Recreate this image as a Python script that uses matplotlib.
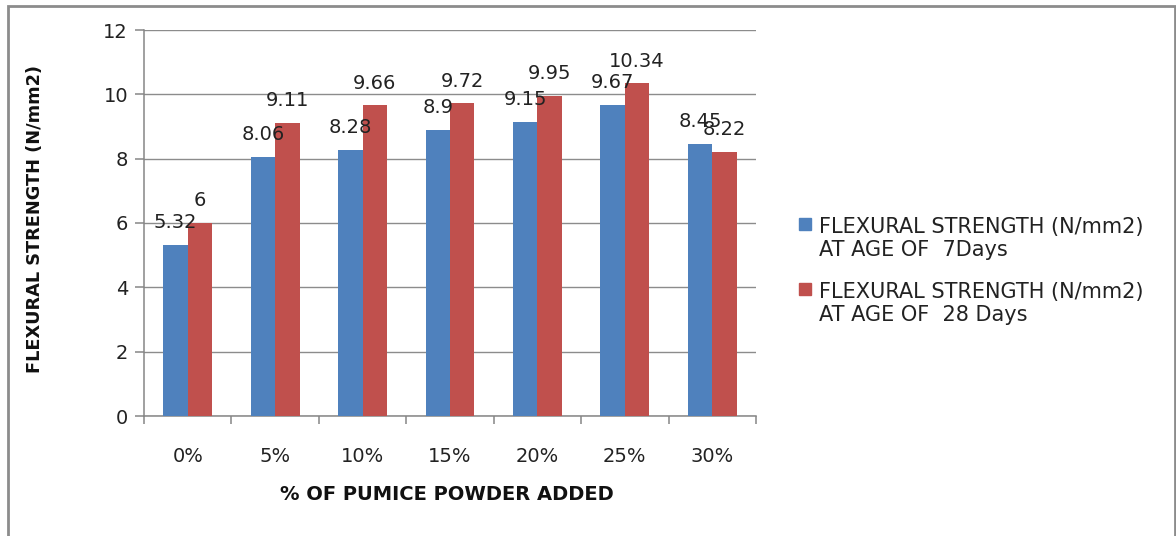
import numpy as np
import matplotlib.pyplot as plt
from matplotlib.patches import Rectangle

categories = ['0%', '5%', '10%', '15%', '20%', '25%', '30%']
days7 = [5.32, 8.06, 8.28, 8.9, 9.15, 9.67, 8.45]
days28 = [6, 9.11, 9.66, 9.72, 9.95, 10.34, 8.22]
series_names = ['FLEXURAL STRENGTH (N/mm2)\nAT AGE OF  7Days',
                'FLEXURAL STRENGTH (N/mm2)\nAT AGE OF  28 Days']
colors = ['#4F81BD', '#C0504D']

plt.rcParams['font.family'] = ['DejaVu Sans']

fig = plt.figure(figsize=(11.76, 5.36), dpi=100)
ax = fig.add_axes([144/1176, 1-416/536, 612/1176, 386/536])

x = np.arange(len(categories))
w = 0.28
b1 = ax.bar(x - w/2, days7, w, color=colors[0], zorder=3)
b2 = ax.bar(x + w/2, days28, w, color=colors[1], zorder=3)

# value labels above each bar
for bars, vals in ((b1, days7), (b2, days28)):
    for rect, v in zip(bars, vals):
        ax.annotate(f'{v:g}', (rect.get_x() + rect.get_width()/2, v),
                    xytext=(0, 16), textcoords='offset points',
                    ha='center', va='center', fontsize=14, color='#222222', zorder=4)

ax.set_ylim(0, 12)
ax.set_yticks(range(0, 13, 2))
ax.set_xlim(-0.5, len(categories) - 0.5)
ax.set_xticks(np.arange(-0.5, len(categories)), labels=[])
ax.set_xticks(x, labels=categories, minor=True)
ax.tick_params(axis='x', which='major', length=6, color='#868686', width=1.1)
ax.tick_params(axis='x', which='minor', length=0, pad=22, labelsize=14, labelcolor='#222222')
ax.tick_params(axis='y', length=6.5, color='#868686', width=1.1, pad=5,
               labelsize=14, labelcolor='#222222')
ax.grid(axis='y', color='#8c8c8c', linewidth=1.0, zorder=0)

for s in ('top', 'right'):
    ax.spines[s].set_visible(False)
for s in ('left', 'bottom'):
    ax.spines[s].set_color('#868686')
    ax.spines[s].set_linewidth(1.1)

fig.text(35/1176, 1-219/536, 'FLEXURAL STRENGTH (N/mm2)', rotation=90,
         ha='center', va='center', fontsize=12.8, fontweight='bold', color='#111111')
fig.text(447/1176, 1-495/536, '% OF PUMICE POWDER ADDED',
         ha='center', va='center', fontsize=14, fontweight='bold', color='#111111')

# legend drawn by hand so the swatch sits on the first text line
legend_rows = [228, 293]
for name, col, yrow in zip(series_names, colors, legend_rows):
    fig.patches.append(Rectangle((799/1176, 1-(yrow+2)/536), 12/1176, 12/536,
                                 transform=fig.transFigure, color=col))
    fig.text(819/1176, 1-(yrow-11)/536, name, ha='left', va='top',
             fontsize=15, color='#222222', linespacing=1.2)

# outer chart border
fig.patches.append(Rectangle((8/1176, -0.05), 1167/1176, 1.05 - 6/536,
                             transform=fig.transFigure, fill=False,
                             edgecolor='#8c8c8c', linewidth=2))

fig.savefig('out.png', dpi=100)
